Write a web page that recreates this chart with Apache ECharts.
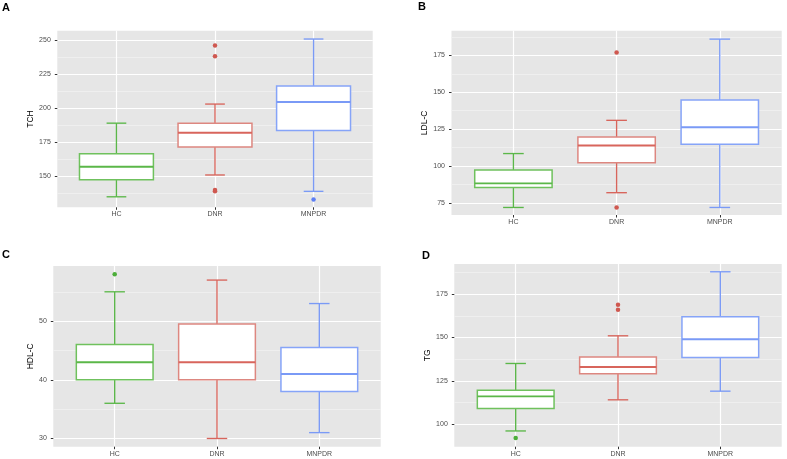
<!DOCTYPE html>
<html><head><meta charset="utf-8">
<script src="https://cdn.jsdelivr.net/npm/echarts@6/dist/echarts.min.js"></script>
<style>html,body{margin:0;padding:0;background:#fff}#c{width:787px;height:459px}</style>
</head><body><div id="c"></div>
<script>
const categories = ['HC', 'DNR', 'MNPDR'];

// each box: [lower whisker, Q1, median, Q3, upper whisker], in category order
const tchBoxes = [[135, 147.5, 157, 166.5, 189], [151, 171.5, 182, 189, 203], [139, 183.7, 204.5, 216.3, 250.7]];
const tchOutliers = [['DNR', 246], ['DNR', 238], ['DNR', 140], ['DNR', 139], ['MNPDR', 133]];
const tchTicks = [150, 175, 200, 225, 250];
const tchMinor = [137.5, 162.5, 187.5, 212.5, 237.5];

const ldlBoxes = [[72, 85.6, 88.3, 97.3, 108.5], [82, 102.3, 114, 119.7, 131], [72, 114.8, 126.3, 144.7, 186]];
const ldlOutliers = [['DNR', 177], ['DNR', 72]];
const ldlTicks = [75, 100, 125, 150, 175];
const ldlMinor = [87.5, 112.5, 137.5, 162.5, 187.5];

const hdlBoxes = [[36, 40, 43, 46, 55], [30, 40, 43, 49.5, 57], [31, 38, 41, 45.5, 53]];
const hdlOutliers = [['HC', 58]];
const hdlTicks = [30, 40, 50];
const hdlMinor = [35, 45, 55];

const tgBoxes = [[96, 109, 116, 119.5, 135], [114, 129, 133, 138.7, 151], [119, 138.5, 149, 162, 188]];
const tgOutliers = [['HC', 92], ['DNR', 169], ['DNR', 166]];
const tgTicks = [100, 125, 150, 175];
const tgMinor = [112.5, 137.5, 162.5, 187.5];

const lineColors = ['#5bb749', '#d8655c', '#7a9af6'];
const boxColors = ['#6fc15d', '#dd8780', '#86a4f8'];
const pointColors = ['#4cae39', '#cf5850', '#5d7ff4'];

const panels = [
  { letter: 'A', name: 'TCH', boxes: tchBoxes, outliers: tchOutliers, ticks: tchTicks, minor: tchMinor,
    min: 127.3, max: 256.8, grid: { left: 57.3, top: 30.7, width: 315.4, height: 176.6 }, nameGap: 21, letterPos: [2, 2] },
  { letter: 'B', name: 'LDL-C', boxes: ldlBoxes, outliers: ldlOutliers, ticks: ldlTicks, minor: ldlMinor,
    min: 66.9, max: 191.7, grid: { left: 451.5, top: 30.7, width: 330.2, height: 184.3 }, nameGap: 20.5, letterPos: [418, 1.5] },
  { letter: 'C', name: 'HDL-C', boxes: hdlBoxes, outliers: hdlOutliers, ticks: hdlTicks, minor: hdlMinor,
    min: 28.6, max: 59.4, grid: { left: 53.3, top: 266, width: 327.4, height: 180.7 }, nameGap: 17, letterPos: [2, 249] },
  { letter: 'D', name: 'TG', boxes: tgBoxes, outliers: tgOutliers, ticks: tgTicks, minor: tgMinor,
    min: 86.9, max: 192.5, grid: { left: 454.3, top: 264, width: 327.4, height: 182.7 }, nameGap: 20, letterPos: [422, 250] }
];

const FONT = 'Liberation Sans, Arial, sans-serif';
const grids = [], xAxes = [], yAxes = [], series = [], graphics = [];

function renderBox(params, api) {
  const x = api.value(0), lo = api.value(1), q1 = api.value(2), md = api.value(3), q3 = api.value(4), hi = api.value(5);
  const i = params.dataIndex;
  const hw = 0.375, cw = 0.1;
  const p = (xx, yy) => api.coord([xx, yy]);
  const ln = (a, b, color, w) => ({ type: 'line', shape: { x1: a[0], y1: a[1], x2: b[0], y2: b[1] },
    style: { stroke: color, lineWidth: w } });
  const tl = p(x - hw, q3), br = p(x + hw, q1);
  return {
    type: 'group',
    children: [
      ln(p(x, hi), p(x, q3), lineColors[i], 1.35),
      ln(p(x - cw, hi), p(x + cw, hi), lineColors[i], 1.35),
      ln(p(x, q1), p(x, lo), lineColors[i], 1.35),
      ln(p(x - cw, lo), p(x + cw, lo), lineColors[i], 1.35),
      { type: 'rect', shape: { x: tl[0], y: tl[1], width: br[0] - tl[0], height: br[1] - tl[1] },
        style: { fill: '#ffffff', stroke: boxColors[i], lineWidth: 1.5 } },
      ln(p(x - hw, md), p(x + hw, md), lineColors[i], 1.9)
    ]
  };
}

const hiddenLine = { show: true, lineStyle: { color: 'rgba(0,0,0,0)', width: 0 } };

panels.forEach((pn, k) => {
  grids.push(Object.assign({ show: true, backgroundColor: '#e6e6e6', borderWidth: 0, containLabel: false }, pn.grid));
  xAxes.push({
    type: 'value', gridIndex: k, min: 0.4, max: 3.6,
    axisLine: hiddenLine,
    axisTick: { show: true, inside: false, length: 2.5, lineStyle: { color: '#333333', width: 1 }, customValues: [1, 2, 3] },
    axisLabel: { show: true, customValues: [1, 2, 3], margin: 3.5, fontSize: 7, color: '#4d4d4d', fontFamily: FONT,
      formatter: v => categories[Math.round(v) - 1] },
    splitLine: { show: true, lineStyle: { color: '#ffffff', width: 1.2 } }
  });
  // major y axis
  yAxes.push({
    type: 'value', gridIndex: k, min: pn.min, max: pn.max,
    name: pn.name, nameLocation: 'middle', nameGap: pn.nameGap, nameRotate: 90,
    nameTextStyle: { fontSize: 8.5, color: '#000', fontFamily: FONT },
    axisLine: hiddenLine,
    axisTick: { show: true, inside: false, length: 2.5, lineStyle: { color: '#333333', width: 1 }, customValues: pn.ticks },
    axisLabel: { show: true, customValues: pn.ticks, margin: 6.5, fontSize: 7, color: '#4d4d4d', fontFamily: FONT },
    splitLine: { show: true, lineStyle: { color: '#ffffff', width: 1.2 } }
  });
  // minor grid lines
  yAxes.push({
    type: 'value', gridIndex: k, min: pn.min, max: pn.max, position: 'left',
    axisLine: { show: false },
    axisTick: { show: false, customValues: pn.minor },
    axisLabel: { show: false, customValues: pn.minor },
    splitLine: { show: true, lineStyle: { color: '#f2f2f2', width: 0.7 } }
  });
  series.push({
    type: 'custom', xAxisIndex: k, yAxisIndex: 2 * k, clip: false,
    data: pn.boxes.map((b, i) => [i + 1].concat(b)),
    encode: { x: 0, y: [1, 2, 3, 4, 5] },
    renderItem: renderBox, z: 3
  });
  series.push({
    type: 'scatter', xAxisIndex: k, yAxisIndex: 2 * k, symbolSize: 4.5, z: 4,
    data: pn.outliers.map(o => [categories.indexOf(o[0]) + 1, o[1]]),
    itemStyle: { color: params => pointColors[params.value[0] - 1], opacity: 1 }
  });
  graphics.push({ type: 'text', left: pn.letterPos[0], top: pn.letterPos[1],
    style: { text: pn.letter, fontSize: 11, fontWeight: 'bold', fill: '#000', fontFamily: FONT } });
});

const chart = echarts.init(document.getElementById('c'), null, { renderer: 'canvas' });
chart.setOption({
  backgroundColor: '#ffffff',
  animation: false,
  grid: grids, xAxis: xAxes, yAxis: yAxes, series: series, graphic: graphics,
  tooltip: { show: false }
});
</script>
</body></html>
